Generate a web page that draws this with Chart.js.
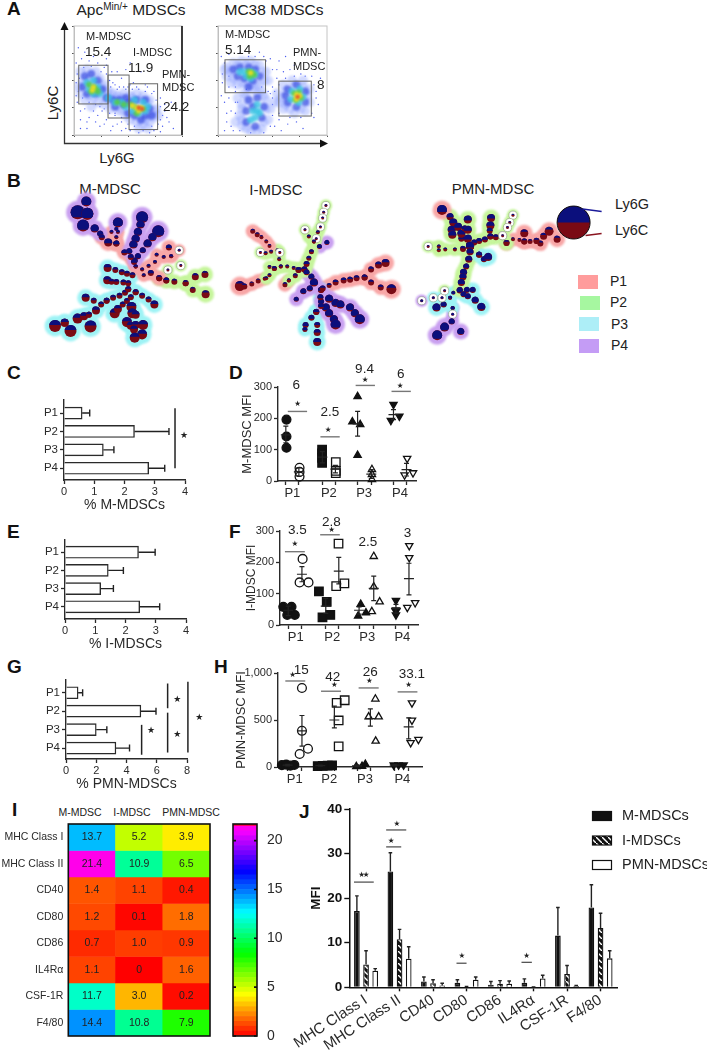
<!DOCTYPE html>
<html>
<head>
<meta charset="utf-8">
<style>
html, body { margin: 0; background: #fff; }
body { position: relative; width: 707px; height: 1050px; overflow: hidden; font-family: "Liberation Sans", Arial, sans-serif; color: #222; filter: blur(.3px); }
canvas { position: absolute; display: block; }
.t { position: absolute; transform: translateY(-50%); white-space: nowrap; }
.c { position: absolute; transform: translate(-50%, -50%); white-space: nowrap; }
.l { position: absolute; transform: translateY(-50%); font-weight: bold; font-size: 19px; color: #111; }
.sw { position: absolute; width: 20px; height: 14px; }
sup { font-size: 10px; line-height: 0; vertical-align: baseline; position: relative; top: -5px; }
svg { position: absolute; left: 0; top: 0; }
</style>
</head>
<body>
<!-- panel letters -->
<div class="l" style="left:7px;top:9px">A</div>
<div class="l" style="left:7px;top:181px">B</div>
<div class="l" style="left:7px;top:373px">C</div>
<div class="l" style="left:229px;top:373px">D</div>
<div class="l" style="left:7px;top:532px">E</div>
<div class="l" style="left:229px;top:532px">F</div>
<div class="l" style="left:7px;top:667px">G</div>
<div class="l" style="left:214px;top:667px">H</div>
<div class="l" style="left:12px;top:810px">I</div>
<div class="l" style="left:299px;top:812px">J</div>

<!-- A -->
<svg width="340" height="150">
  <path d="M64.5 28V143.5H322" fill="none" stroke="#333" stroke-width="1.3"/>
  <path d="M60.5 30L64.5 22L68.5 30Z M320 139.5L328 143.5L320 147.5Z" fill="#111"/>
</svg>
<div class="c" style="left:131px;top:10px;font-size:15.5px">Apc<sup>Min/+</sup> MDSCs</div>
<div class="c" style="left:274px;top:10px;font-size:15.5px">MC38 MDSCs</div>
<div class="c" style="left:52px;top:103px;font-size:15px;transform:translate(-50%,-50%) rotate(-90deg)">Ly6C</div>
<div class="c" style="left:117px;top:157px;font-size:15px">Ly6G</div>

<!-- B -->
<div class="c" style="left:110px;top:188px;font-size:15px">M-MDSC</div>
<div class="c" style="left:276px;top:189px;font-size:15px">I-MDSC</div>
<div class="c" style="left:493px;top:188px;font-size:15px">PMN-MDSC</div>
<div class="t" style="left:615px;top:204px;font-size:14.5px">Ly6G</div>
<div class="t" style="left:615px;top:230px;font-size:14.5px">Ly6C</div>
<div class="sw" style="left:578px;top:275px;background:#ff9c9c"></div>
<div class="sw" style="left:580px;top:296px;background:#a6f7a0"></div>
<div class="sw" style="left:579px;top:317px;background:#adeef7"></div>
<div class="sw" style="left:579px;top:339px;background:#c49cf5"></div>
<div class="t" style="left:610px;top:281px;font-size:14px">P1</div>
<div class="t" style="left:610px;top:302px;font-size:14px">P2</div>
<div class="t" style="left:611px;top:324px;font-size:14px">P3</div>
<div class="t" style="left:611px;top:345px;font-size:14px">P4</div>

<!-- I column heads -->
<div class="c" style="left:80px;top:812px;font-size:10.5px">M-MDSC</div>
<div class="c" style="left:132px;top:812px;font-size:10.5px">I-MDSC</div>
<div class="c" style="left:191px;top:812px;font-size:10.5px">PMN-MDSC</div>

<script src="https://cdn.jsdelivr.net/npm/chart.js@4"></script>
<script>
// ---- A: density dots, axis units 0-100
const gatesA1 = [[4.4, 28.5, 31.5, 64], [31.5, 15.6, 51, 55], [51, 5, 77.4, 47]];
const gatesA2 = [[6.4, 38.8, 43.6, 69], [55.8, 17.4, 85.6, 49.4]];
const sparseA1 = [[2,66],[7,70],[14,68],[22,66],[30,64],[35,58],[44,52],[55,48],[68,44],[80,34],[84,22],[88,12],[82,8],[74,4],[60,2],[48,6],[40,10],[30,14],[22,18],[14,16],[6,22],[3,30],[2,48],[28,62],[36,48],[50,44],[74,40],[80,14],[44,12],[26,22],[10,24],[18,22],[38,18],[90,30],[92,6],[12,6],[24,8],[34,4],[66,46],[6,14],[5,52],[3,56],[9,62],[16,63],[25,58],[30,56],[33,50],[38,46],[42,44],[48,42],[54,42],[60,42],[66,40],[72,38],[76,32],[80,26],[82,18],[78,10],[72,8],[64,4],[56,8],[50,10],[44,16],[38,20],[33,20],[28,24],[24,26],[20,28],[14,30],[8,34],[4,40],[2,36],[34,44],[40,42],[46,44],[52,46],[58,44],[84,28],[86,16],[52,4],[44,4],[36,8],[28,10],[20,12],[12,12],[6,6],[70,2],[80,3],[40,58],[48,60],[30,70],[18,72],[10,76],[4,80],[52,66],[62,58]];
const haloA1 = [[6,58],[12,60],[20,58],[8,50],[4,44],[14,52],[24,52],[28,46],[6,38],[10,32],[18,34],[26,36],[32,40],[36,38],[34,24],[40,36],[42,22],[46,38],[48,18],[52,36],[52,14],[58,38],[58,12],[64,36],[64,10],[70,32],[70,12],[76,24],[74,16],[22,30],[28,28],[78,18],[16,26],[60,6],[68,6],[10,46],[16,48],[20,46],[26,44],[14,36],[30,38],[34,32],[38,34],[44,34],[48,30],[44,24],[50,26],[54,34],[56,24],[60,18],[66,14],[70,18],[74,22],[62,32],[68,30]];
const blueA1 = [[10,54],[16,56],[22,50],[8,44],[12,38],[20,38],[26,42],[30,34],[36,32],[42,32],[38,26],[46,28],[48,34],[52,30],[50,20],[56,18],[62,14],[58,32],[66,32],[70,24],[72,18],[66,18]];
const cyanA1 = [[12,48],[18,50],[14,42],[22,44],[18,38],[24,38],[32,34],[38,30],[44,30],[48,26],[54,22],[60,20],[66,22],[56,32],[64,30],[68,26]];
const greenA1 = [[14,46],[18,44],[16,40],[20,42],[22,40],[40,30],[46,28],[52,28],[56,26],[60,24],[64,24],[58,20]];
const yellowA1 = [[18,44],[17,41],[54,27],[58,25],[62,25],[60,22]];
const redA1 = [[60,25],[63,24]];
const sparseA2 = [[3,72],[10,74],[20,75],[34,72],[44,68],[50,60],[50,44],[46,40],[54,52],[4,48],[3,36],[10,34],[16,30],[12,22],[8,12],[14,4],[52,8],[56,14],[58,4],[64,10],[72,12],[50,34],[90,40],[92,28],[88,16],[94,52],[60,58],[66,60],[56,68],[16,40],[42,72],[6,4],[78,6],[86,54],[76,56],[6,66],[4,56],[10,44],[16,44],[26,42],[40,44],[48,38],[50,28],[50,18],[48,8],[42,2],[30,2],[20,4],[16,20],[18,30],[52,40],[56,46],[62,52],[70,54],[80,54],[88,46],[90,34],[86,20],[76,16],[66,16],[56,20],[28,72],[38,76],[48,70],[54,60],[62,72],[70,64],[10,54],[6,30],[8,20],[12,8]];
const haloA2 = [[8,62],[14,66],[22,68],[30,68],[38,64],[44,58],[46,50],[8,54],[14,52],[22,48],[30,46],[38,46],[6,60],[24,38],[32,42],[40,40],[44,32],[48,24],[46,14],[40,6],[30,4],[22,8],[20,18],[22,28],[16,12],[60,46],[68,50],[78,50],[84,42],[84,30],[80,22],[70,20],[60,24],[58,34],[54,38],[52,30],[12,58],[18,64],[26,64],[34,64],[40,58],[42,50],[12,48],[18,46],[26,46],[34,46],[26,36],[36,38],[42,36],[44,24],[42,12],[36,4],[26,6],[22,14],[22,24],[18,34],[30,30],[62,40],[70,44],[78,44],[82,36],[76,24],[66,24],[56,30],[62,28]];
const blueA2 = [[14,60],[20,62],[28,62],[34,60],[38,54],[18,54],[24,52],[32,50],[28,44],[28,32],[36,34],[42,26],[40,16],[34,8],[26,12],[26,22],[32,26],[64,42],[72,46],[80,40],[80,30],[72,26],[64,30],[62,36]];
const cyanA2 = [[20,58],[24,58],[30,58],[34,56],[30,52],[26,54],[32,22],[36,22],[34,16],[38,20],[30,14],[36,28],[68,40],[75,42],[78,35],[74,30],[67,33]];
const greenA2 = [[28,58],[31,57],[29,54],[33,55],[70,38],[74,39],[76,34],[71,32]];
const yellowA2 = [[30,57],[72,37],[75,36],[72,33]];
const redA2 = [[73,35]];
const labelsA1 = [['M-MDSC',86,36,11],['15.4',85,51,13.5],['I-MDSC',133,52,11],['11.9',128,67,13.5],['PMN-',162,74,11],['MDSC',162,87,11],['24.2',163,106,13.5]];
const labelsA2 = [['M-MDSC',225,34,11],['5.14',225,49,13.5],['PMN-',293,52,11],['MDSC',293,66,11],['8',317,84,13.5]];

// ---- B: tree nodes [x, y, size], axis units are 1/3 px of the panel
const popColors = { P1: '#f8a7a7', P2: '#c6f59c', P3: '#9ef3f5', P4: '#c9a0f0' };
const treeM = [
  { pop: 'P4', blue: .85, nodes: [[232,68,5],[235,110,6],[222,150,6],[258,160,4],[275,178,3]] },
  { pop: 'P4', blue: .85, nodes: [[205,105,7],[235,110,6]] },
  { pop: 'P4', blue: .85, nodes: [[330,140,5],[325,162,2]] },
  { pop: 'P4', blue: .85, nodes: [[405,122,6],[400,147,4],[392,172,4],[385,195,4],[378,215,4],[365,238,3]] },
  { pop: 'P4', blue: .85, nodes: [[455,170,6],[437,190,4],[422,212,4],[407,235,3],[392,255,3],[382,270,3]] },
  { pop: 'P1', blue: .6, nodes: [[280,190,3],[300,208,4],[325,212,3],[350,242,3],[370,258,3],[380,275,3],[385,290,2]] },
  { pop: 'P1', blue: .6, nodes: [[310,172,2],[330,172,2],[325,190,2],[325,212,3]] },
  { pop: 'P1', blue: .6, nodes: [[488,225,3],[495,255,2],[472,258,2],[450,250,2],[445,275,2],[425,288,2],[405,300,2],[385,290,2]] },
  { pop: 'P1', blue: .6, nodes: [[520,235,1.5],[495,255,2]] },
  { pop: 'P1', blue: .55, nodes: [[385,290,2],[410,320,2],[432,312,3],[458,330,3]] },
  { pop: 'P2', blue: .28, nodes: [[458,330,3],[480,338,3],[505,342,3],[540,347,3],[570,325,3.5],[600,317,3.5]] },
  { pop: 'P2', blue: .28, nodes: [[540,347,3],[562,370,3],[602,385,4]] },
  { pop: 'P2', blue: .4, nodes: [[485,302,1.5],[480,338,3]] },
  { pop: 'P2', blue: .4, nodes: [[525,287,1.5]] },
  { pop: 'P3', blue: .42, nodes: [[298,295,4],[322,302,3],[342,310,3],[358,315,3],[375,320,3]] },
  { pop: 'P3', blue: .42, nodes: [[297,337,4],[310,342,3],[325,343,3],[347,345,3],[362,347,3]] },
  { pop: 'P3', blue: .42, nodes: [[362,368,3],[385,378,3],[405,390,3],[425,403,3],[443,420,4]] },
  { pop: 'P3', blue: .42, nodes: [[230,397,4],[255,407,3],[295,407,3],[315,397,3],[335,390,3],[352,380,3],[362,368,3]] },
  { pop: 'P3', blue: .42, nodes: [[135,493,6],[165,482,4],[205,468,5],[225,460,4],[240,455,3],[262,440,4],[278,420,3],[295,407,3]] },
  { pop: 'P3', blue: .42, nodes: [[183,510,6],[165,482,4]] },
  { pop: 'P3', blue: .42, nodes: [[245,495,6],[240,455,3]] },
  { pop: 'P3', blue: .42, nodes: [[320,450,5],[330,435,4],[345,420,3],[358,408,3],[370,395,3],[385,378,3]] },
  { pop: 'P3', blue: .42, nodes: [[372,428,5],[375,450,5],[385,455,4],[358,480,5],[370,492,4],[385,490,4],[408,490,5],[380,505,4],[405,522,5],[382,533,5]] }
];
const treeI = [
  { pop: 'P2', blue: .5, nodes: [[975,82,1.5],[968,105,1.5],[965,125,1.5],[958,155,1.5],[950,173,2],[938,205,2],[930,240,2.5],[922,262,2.5],[915,282,3],[908,300,3]] },
  { pop: 'P2', blue: .5, nodes: [[910,165,1.5],[922,188,2],[938,205,2]] },
  { pop: 'P2', blue: .5, nodes: [[945,195,1.5],[938,205,2]] },
  { pop: 'P4', blue: .8, nodes: [[978,208,2.5],[955,222,2.5]] },
  { pop: 'P1', blue: .3, nodes: [[748,170,2.5],[762,182,2.5],[775,190,2],[790,205,2],[800,220,2]] },
  { pop: 'P2', blue: .4, nodes: [[772,242,1.5],[788,245,2],[805,240,2],[825,235,2],[832,242,1.5],[830,265,2],[835,290,2]] },
  { pop: 'P2', blue: .45, nodes: [[800,292,2],[815,297,2.5],[835,290,2],[855,290,2],[875,295,2],[890,302,3],[908,300,3]] },
  { pop: 'P2', blue: .45, nodes: [[790,330,2],[800,320,2],[815,297,2.5]] },
  { pop: 'P2', blue: .45, nodes: [[860,338,2],[880,322,2.5],[890,302,3]] },
  { pop: 'P1', blue: .25, nodes: [[708,357,5],[722,358,3],[745,350,2.5],[765,340,2.5],[785,332,2]] },
  { pop: 'P1', blue: .3, nodes: [[848,352,2.5],[860,338,2]] },
  { pop: 'P4', blue: .8, nodes: [[915,310,3],[930,325,3],[938,345,4],[925,365,3],[905,375,3],[883,402,2.5]] },
  { pop: 'P4', blue: .8, nodes: [[960,370,3],[985,400,4],[1005,415,4],[1020,420,4],[1050,430,4],[1065,450,4],[1080,470,5]] },
  { pop: 'P4', blue: .8, nodes: [[960,410,3],[975,430,4],[985,450,4],[1000,470,4],[1005,488,5]] },
  { pop: 'P3', blue: .65, nodes: [[960,370,3],[958,395,3],[960,425,3],[945,445,3],[930,465,3],[912,490,3],[910,505,2.5]] },
  { pop: 'P3', blue: .5, nodes: [[945,445,3],[948,490,3],[948,515,3.5],[948,548,4]] },
  { pop: 'P1', blue: .4, nodes: [[965,365,3],[985,355,2.5],[1005,345,3],[1030,338,3],[1050,335,3],[1070,330,3],[1095,328,3],[1115,300,3],[1138,285,3.5],[1160,278,4]] },
  { pop: 'P1', blue: .35, nodes: [[1095,328,3],[1115,345,3],[1145,362,3],[1178,368,5]] }
];
const treeP = [
  { pop: 'P1', blue: .7, nodes: [[1335,97,5]] },
  { pop: 'P2', blue: .6, nodes: [[1360,120,3.5],[1370,140,4],[1365,165,4],[1367,182,4],[1395,195,3],[1422,220,4]] },
  { pop: 'P2', blue: .6, nodes: [[1385,155,4],[1395,178,4],[1405,160,3],[1415,130,4],[1415,165,4],[1415,195,4],[1422,220,4]] },
  { pop: 'P2', blue: .55, nodes: [[1487,125,4],[1485,150,4],[1483,168,3],[1485,188,3],[1468,198,3],[1450,203,3],[1435,208,3],[1422,220,4]] },
  { pop: 'P2', blue: .45, nodes: [[1555,115,1.5],[1545,140,1.5],[1538,157,1.5],[1523,185,1.5],[1502,190,3],[1485,188,3]] },
  { pop: 'P2', blue: .45, nodes: [[1535,210,3],[1523,185,1.5]] },
  { pop: 'P2', blue: .4, nodes: [[1292,222,1.5],[1325,222,2],[1325,235,2],[1345,232,2],[1375,232,2],[1400,230,3],[1422,220,4]] },
  { pop: 'P3', blue: .8, nodes: [[1450,250,3],[1465,265,3],[1478,258,4]] },
  { pop: 'P2', blue: .6, nodes: [[1422,220,4],[1450,250,3]] },
  { pop: 'P2', blue: .7, nodes: [[1422,220,4],[1422,240,3.5],[1418,265,3.5],[1410,290,3],[1402,310,3.5],[1400,325,3.5],[1395,345,3.5],[1390,370,3]] },
  { pop: 'P1', blue: .3, nodes: [[1535,210,3],[1555,197,2],[1575,200,2],[1590,205,3],[1608,205,2.5],[1628,203,3],[1640,212,3]] },
  { pop: 'P1', blue: .3, nodes: [[1590,177,4],[1590,205,3]] },
  { pop: 'P1', blue: .3, nodes: [[1628,203,3],[1650,187,3.5],[1667,170,4.5]] },
  { pop: 'P1', blue: .3, nodes: [[1692,197,3.5]] },
  { pop: 'P3', blue: .8, nodes: [[1430,370,3],[1412,370,3],[1390,372,2],[1370,380,2],[1360,397,2],[1340,420,3],[1318,430,4]] },
  { pop: 'P3', blue: .8, nodes: [[1390,372,3],[1402,385,3],[1415,392,3],[1438,405,3.5],[1457,428,4]] },
  { pop: 'P3', blue: .7, nodes: [[1308,397,1.5],[1335,397,1.5],[1360,397,2],[1368,432,2]] },
  { pop: 'P2', blue: .5, nodes: [[1343,373,1.5]] },
  { pop: 'P4', blue: .85, nodes: [[1272,407,1.5]] },
  { pop: 'P4', blue: .85, nodes: [[1368,432,2],[1368,453,1.5],[1365,478,3],[1343,497,4.5],[1320,525,5]] },
  { pop: 'P4', blue: .85, nodes: [[1393,512,3.5]] }
];
const pieLegend = [[1743, 140, 16.5]];

// ---- C, E, G: horizontal bars
const popLabels = ['P1', 'P2', 'P3', 'P4'];
const cValues = [0.6, 2.33, 1.3, 2.8];
const cErrors = [0.85, 3.47, 1.65, 3.33];
const eValues = [2.43, 1.43, 1.18, 2.47];
const eErrors = [2.98, 1.93, 1.6, 3.13];
const gValues = [0.8, 4.95, 2.0, 3.3];
const gErrors = [1.1, 5.95, 2.7, 4.2];

// ---- D, F, H: dots per column, [column position, value]
const dDots = [
  [[1.05,196],[1.05,142],[1.05,106]],
  [[2.05,42],[2.05,29],[2.05,14]],
  [[3.78,100],[3.78,88],[3.78,74],[3.78,58]],
  [[4.83,60],[4.83,32],[4.83,25]],
  [[6.5,270],[6.1,189],[6.7,180],[6.5,82]],
  [[7.6,37],[7.6,21],[7.6,5]],
  [[9.25,244],[9.05,193],[9.7,207]],
  [[10.3,72],[10.1,19],[10.75,26]]
];
const dMeans = [147, 29, 76, 38, 182, 22, 212, 36];
const dLow = [122, 15, 58, 26, 143, 8, 196, 16];
const dHigh = [175, 43, 94, 50, 222, 36, 228, 56];
const dColumns = [1, 2, 3.8, 4.8, 6.5, 7.55, 9.25, 10.25];
const dLabelAt = [1.5, 4.3, 7, 9.75];
const dLines = [[1.15,222,2.63,222],[3.65,141,5.13,141],[6.35,305,7.83,305],[9.1,286,10.58,286]];
const dStars = [[1.9,244],[4.25,162],[7.08,323],[9.75,304]];
const dRatios = [['6',1.8,304],['2.5',4.38,219],['9.4',7.03,357],['6',9.8,342]];

const fDots = [
  [[.64,58],[1.24,58],[.93,32],[1.48,32],[1,46]],
  [[2.05,211],[1.83,136],[2.48,136]],
  [[3.24,107],[3.81,74],[3.5,24],[4.07,32]],
  [[4.67,260],[4.5,124],[5.1,133]],
  [[6.29,66],[6.1,29],[6.67,39]],
  [[7.24,219],[7.1,43],[7.67,74],[7.24,122]],
  [[8.86,78],[8.86,43],[8.86,32],[8.86,48]],
  [[9.83,253],[9.83,215],[9.69,56],[10.26,71]]
];
const fMeans = [47, 162, 60, 172, 47, 117, 52, 148];
const fLow = [30, 138, 37, 131, 35, 78, 38, 96];
const fHigh = [60, 186, 85, 216, 58, 156, 66, 197];
const fColumns = [1, 2, 3.74, 4.69, 6.17, 7.24, 8.86, 9.81];
const fLabelAt = [1.55, 4.21, 6.76, 9.33];
const fLines = [[.76,234,2.21,234],[3.33,288,4.76,288]];
const fStars = [[1.48,257],[4.17,303]];
const fRatios = [['3.5',1.67,303],['2.8',4.14,328],['2.5',6.81,265],['3',9.71,293]];

const hDots = [
  [[.6,20],[.9,25],[1.19,15],[1.47,22]],
  [[2,841],[2,385],[1.84,138],[2.42,194]],
  [[3.1,10],[3.45,12],[3.8,15],[4.1,18]],
  [[4.42,682],[4.98,710],[4.56,495],[4.56,219]],
  [[5.79,5],[6.42,30],[6.19,8]],
  [[7.12,724],[6.65,534],[7.35,534],[7.14,276]],
  [[8.4,20],[8.74,20],[9.09,20]],
  [[9.67,682],[9.67,498],[9.58,258],[10.12,293]]
];
const hMeans = [20, 385, 14, 500, 12, 515, 20, 427];
const hLow = [12, 223, 8, 417, 4, 435, 12, 300];
const hHigh = [28, 548, 20, 647, 24, 618, 28, 523];
const hColumns = [1, 2, 3.28, 4.26, 5.84, 6.77, 8.47, 9.44];
const hLabelAt = [1.5, 3.9, 6.4, 9];
const hLines = [[.84,915,2.23,915],[3.33,806,4.72,806],[5.95,841,7.35,841],[8.67,799,10.05,799]];
const hStars = [[1.35,975],[4.26,876],[6.7,912],[9.44,876]];
const hRatios = [['15',1.95,1028],['42',4.14,954],['26',6.77,1007],['33.1',9.67,982]];

// ---- I: heat map
const heatColumns = ['M-MDSC', 'I-MDSC', 'PMN-MDSC'];
const heatRows = ['MHC Class I', 'MHC Class II', 'CD40', 'CD80', 'CD86', 'IL4R\u03b1', 'CSF-1R', 'F4/80'];
const heatMDSC = [13.7, 21.4, 1.4, 1.2, 0.7, 1.1, 11.7, 14.4];
const heatIMDSC = [5.2, 10.9, 1.1, 0.1, 1.0, 0, 3.0, 10.8];
const heatPMN = [3.9, 6.5, 0.4, 1.8, 0.9, 1.6, 0.2, 7.9];
const heatLabels = [['13.7','5.2','3.9'],['21.4','10.9','6.5'],['1.4','1.1','0.4'],['1.2','0.1','1.8'],['0.7','1.0','0.9'],['1.1','0','1.6'],['11.7','3.0','0.2'],['14.4','10.8','7.9']];

// ---- J: grouped bars
const markers = ['MHC Class I', 'MHC Class II', 'CD40', 'CD80', 'CD86', 'IL4R\u03b1', 'CSF-1R', 'F4/80'];
const jMDSC = [17.1, 26, 1.3, 1.0, 0.6, 1.0, 11.6, 17.9];
const jIMDSC = [5.1, 10.8, 0.9, 0.1, 0.8, 0.05, 3, 13.3];
const jPMN = [3.7, 6.4, 0.4, 1.7, 0.8, 2, 0.3, 6.5];
const jMDSCTop = [20.5, 30.2, 2.3, 1.7, 1.3, 1.9, 17.9, 23];
const jIMDSCTop = [8.2, 13, 1.7, 0.2, 1.5, 0.1, 4.9, 16.6];
const jPMNTop = [4.2, 9.1, 0.9, 2.3, 1.4, 2.7, 0.4, 8.2];
const jLines = [[-.36,23.6,.23,23.6],[.6,35.3,1.2,35.3],[.6,31.5,1.05,31.5],[2.7,5.4,3,5.4],[4.64,5.6,4.95,5.6]];
const jStars = [[-.13,25.2],[.0,25.2],[.92,36.6],[.75,32.9],[2.86,6.9],[4.79,7]];

const INK = '#2a2a2a';
Chart.defaults.animation = false;
Chart.defaults.responsive = false;
Chart.defaults.font.family = '"Liberation Sans", Arial, sans-serif';
Chart.defaults.color = INK;
Chart.defaults.plugins.legend.display = false;
Chart.defaults.plugins.tooltip.enabled = false;

// canvas around a chart area given in page pixels: area [l,t,r,b], margins [left,top,right,bottom]
function makeCanvas(area, m) {
  const c = document.createElement('canvas');
  c.width = Math.round(area[2] - area[0] + m[0] + m[2]);
  c.height = Math.round(area[3] - area[1] + m[1] + m[3]);
  c.style.left = (area[0] - m[0]) + 'px';
  c.style.top = (area[1] - m[1]) + 'px';
  document.body.appendChild(c);
  return c;
}
const padding = m => ({ top: m[1], right: m[2], left: 0, bottom: 0 });
const axisStyle = { color: INK, width: 1.4 };
const gridStyle = { drawOnChartArea: false, tickLength: 4, color: INK, tickWidth: 1.3 };

// gates, frames
const framePlugin = {
  id: 'gates',
  afterDatasetsDraw(chart, _, o) {
    const { ctx, chartArea: a, scales: { x, y } } = chart;
    ctx.save();
    if (o.frame) { ctx.strokeStyle = o.frame; ctx.lineWidth = o.frameWidth || 1; ctx.strokeRect(a.left, a.top, a.right - a.left, a.bottom - a.top); }
    if (o.rightEdge) { ctx.strokeStyle = '#111'; ctx.lineWidth = 1.6; ctx.beginPath(); ctx.moveTo(a.right, a.top); ctx.lineTo(a.right, a.bottom); ctx.stroke(); }
    ctx.strokeStyle = '#666'; ctx.lineWidth = 1;
    (o.rects || []).forEach(r => {
      const X = x.getPixelForValue(r[0]), Y = y.getPixelForValue(r[3]);
      ctx.strokeRect(X, Y, x.getPixelForValue(r[2]) - X, y.getPixelForValue(r[1]) - Y);
    });
    ctx.restore();
  }
};

// significance lines, stars and ratio numbers in data units
const marksPlugin = {
  id: 'marks',
  afterDraw(chart, _, o) {
    const { ctx, scales: { x, y } } = chart;
    ctx.save();
    ctx.strokeStyle = o.lineColor || '#777'; ctx.lineWidth = o.lineWidth || 1.4;
    (o.lines || []).forEach(l => {
      ctx.beginPath();
      ctx.moveTo(x.getPixelForValue(l[0]), y.getPixelForValue(l[1]));
      ctx.lineTo(x.getPixelForValue(l[2]), y.getPixelForValue(l[3]));
      ctx.stroke();
    });
    ctx.textAlign = 'center'; ctx.textBaseline = 'middle'; ctx.fillStyle = '#222';
    ctx.font = (o.starSize || 8) + 'px "DejaVu Sans"';
    (o.stars || []).forEach(s => ctx.fillText('\u2605', x.getPixelForValue(s[0]), y.getPixelForValue(s[1])));
    ctx.font = '13.5px "Liberation Sans"';
    (o.numbers || []).forEach(n => ctx.fillText(n[0], x.getPixelForValue(n[1]), y.getPixelForValue(n[2])));
    ctx.restore();
  }
};

// mean line + whiskers for the dot panels
const summaryPlugin = {
  id: 'summary',
  afterDatasetsDraw(chart, _, o) {
    const { ctx, scales: { x, y } } = chart;
    if (!o.means) return;
    ctx.save();
    ctx.strokeStyle = '#222'; ctx.lineWidth = 1.2;
    o.means.forEach((v, i) => {
      const X = x.getPixelForValue(o.columns[i]);
      const yl = y.getPixelForValue(o.low[i]), yh = y.getPixelForValue(o.high[i]), ym = y.getPixelForValue(v);
      ctx.beginPath();
      ctx.moveTo(X, yl); ctx.lineTo(X, yh);
      ctx.moveTo(X - 2.5, yl); ctx.lineTo(X + 2.5, yl);
      ctx.moveTo(X - 2.5, yh); ctx.lineTo(X + 2.5, yh);
      ctx.moveTo(X - 5, ym); ctx.lineTo(X + 5, ym);
      ctx.stroke();
    });
    ctx.restore();
  }
};

// whiskers for bars; the direction follows the value axis
const whiskerPlugin = {
  id: 'whiskers',
  afterDatasetsDraw(chart, _, o) {
    if (!o.tops) return;
    const { ctx, scales: { x, y } } = chart;
    ctx.save();
    ctx.strokeStyle = '#222'; ctx.lineWidth = 1.4;
    o.tops.forEach((tops, d) => {
      chart.getDatasetMeta(d).data.forEach((bar, i) => {
        ctx.beginPath();
        if (chart.options.indexAxis === 'y') {
          const e = x.getPixelForValue(tops[i]);
          ctx.moveTo(bar.x, bar.y); ctx.lineTo(e, bar.y);
          ctx.moveTo(e, bar.y - 3.5); ctx.lineTo(e, bar.y + 3.5);
        } else {
          const e = y.getPixelForValue(tops[i]);
          ctx.moveTo(bar.x, bar.y); ctx.lineTo(bar.x, e);
          ctx.moveTo(bar.x - 1.8, e); ctx.lineTo(bar.x + 1.8, e);
        }
        ctx.stroke();
      });
    });
    ctx.restore();
  }
};

// pie glyph for every tree node, blue share on top
function drawGlyph(ctx, x, y, r, blue) {
  const t = Math.asin(2 * blue - 1);
  ctx.fillStyle = '#7a0a14';
  ctx.beginPath(); ctx.arc(x, y, r, 0, Math.PI * 2); ctx.fill();
  ctx.fillStyle = '#0b0f7c';
  ctx.beginPath(); ctx.arc(x, y, r, Math.PI - t, Math.PI * 2 + t); ctx.closePath(); ctx.fill();
}
const treePlugin = {
  id: 'treeNodes',
  beforeDatasetsDraw(chart) { chart.ctx.filter = 'blur(1px)'; },
  afterDatasetsDraw(chart) {
    const { ctx, scales: { x, y } } = chart;
    ctx.filter = 'none';
    ctx.save();
    chart.data.datasets.forEach((ds, d) => {
      if (!ds.isTree) return;
      chart.getDatasetMeta(d).data.forEach((pt, i) => {
        const r = ds.data[i].r;
        if (r < 2) {
          ctx.fillStyle = '#fff'; ctx.strokeStyle = '#8a9a80'; ctx.lineWidth = .6;
          ctx.beginPath(); ctx.arc(pt.x, pt.y, r + 2.6, 0, Math.PI * 2); ctx.fill(); ctx.stroke();
        }
        drawGlyph(ctx, pt.x, pt.y, r, ds.blue);
      });
    });
    pieLegend.forEach(p => {
      const X = x.getPixelForValue(p[0]), Y = y.getPixelForValue(p[1]);
      drawGlyph(ctx, X, Y, p[2], .5);
      ctx.strokeStyle = '#111'; ctx.lineWidth = 1;
      ctx.beginPath(); ctx.arc(X, Y, p[2], 0, Math.PI * 2); ctx.stroke();
      ctx.lineWidth = 1.4;
      ctx.strokeStyle = '#1a1a9a'; ctx.beginPath(); ctx.moveTo(X + 9, Y - 13.5); ctx.lineTo(X + 28, Y - 11); ctx.stroke();
      ctx.strokeStyle = '#8a1420'; ctx.beginPath(); ctx.moveTo(X + 12, Y + 13); ctx.lineTo(X + 28, Y + 11); ctx.stroke();
    });
    ctx.restore();
  }
};

// ---- A
const softDots = {
  id: 'softDots',
  beforeDatasetDraw(chart, { index }) { chart.ctx.filter = index === 6 ? 'none' : 'blur(1.1px)'; },
  afterDatasetsDraw(chart) { chart.ctx.filter = 'none'; }
};
function densityChart(area, rects, rightEdge, layers, labels) {
  const tint = [['#e8552aff', 2.2], ['#ecdc22ee', 2.6], ['#58cc48dd', 3], ['#38c4e4cc', 3.6], ['#3347e0b0', 4], ['#8ea2ff66', 5], ['#4a5cf0ff', .7]];
  new Chart(makeCanvas(area, [3, 1, 2, 5]), {
    type: 'scatter',
    data: { datasets: layers.map((pts, i) => ({
      data: pts.map(p => ({ x: p[0], y: p[1] })),
      pointRadius: tint[i][1], backgroundColor: tint[i][0], borderWidth: 0
    })) },
    options: {
      layout: { padding: { top: 1, right: 2 } },
      scales: {
        x: { min: 0, max: 100, afterFit: s => { s.height = 5; }, border: { color: '#bbb', width: 1 }, grid: { drawOnChartArea: false, tickLength: 2, color: '#555' }, ticks: { display: false, stepSize: 25 } },
        y: { min: 0, max: 100, afterFit: s => { s.width = 3; }, border: { color: '#bbb', width: 1 }, grid: { drawOnChartArea: false, tickLength: 2, color: '#555' }, ticks: { display: false, stepSize: 25 } }
      },
      plugins: { gates: { frame: '#c4c4c4', rightEdge, rects } }
    },
    plugins: [softDots, framePlugin]
  });
  labels.forEach(l => {
    const d = document.createElement('div');
    d.className = 't';
    d.textContent = l[0];
    d.style.cssText = `left:${l[1]}px;top:${l[2]}px;font-size:${l[3]}px`;
    document.body.appendChild(d);
  });
}
densityChart([71.7, 21.7, 185, 135], gatesA1, true, [redA1, yellowA1, greenA1, cyanA1, blueA1, haloA1, sparseA1], labelsA1);
densityChart([216, 21.7, 330, 135], gatesA2, false, [redA2, yellowA2, greenA2, cyanA2, blueA2, haloA2, sparseA2], labelsA2);

// ---- B
const treeBranches = [...treeM, ...treeI, ...treeP];
new Chart(makeCanvas([0, 170, 707, 360], [0, 0, 0, 0]), {
  type: 'scatter',
  data: { datasets: treeBranches.map(b => ({
    isTree: true, blue: b.blue,
    data: b.nodes.map(n => ({ x: n[0], y: n[1], r: n[2] })),
    showLine: true,
    borderColor: popColors[b.pop], backgroundColor: popColors[b.pop], borderWidth: 10,
    borderCapStyle: 'round', borderJoinStyle: 'round',
    pointBorderWidth: 0,
    pointRadius: c => c.raw.r + 4.5,
    clip: false
  })) },
  options: {
    layout: { padding: 0 },
    scales: { x: { display: false, min: 0, max: 2121 }, y: { display: false, min: 0, max: 570, reverse: true } }
  },
  plugins: [treePlugin]
});

// ---- C, E, G
function hBars(area, m, values, errors, cfg) {
  new Chart(makeCanvas(area, m), {
    type: 'bar',
    data: { datasets: [{
      data: values.map((v, i) => ({ x: v, y: i })),
      backgroundColor: '#fff', borderColor: INK, borderWidth: 1.4, barThickness: 12
    }] },
    options: {
      indexAxis: 'y',
      layout: { padding: padding(m) },
      scales: {
        x: {
          type: 'linear', min: 0, max: cfg.xMax,
          afterFit: s => { s.height = m[3]; },
          border: axisStyle, grid: gridStyle,
          ticks: { stepSize: cfg.xStep, font: { size: 11 }, padding: 1 },
          title: { display: true, text: cfg.title, font: { size: 14 }, padding: 0 }
        },
        y: {
          type: 'linear', reverse: true, offset: false, min: cfg.yRange[0], max: cfg.yRange[1],
          afterFit: s => { s.width = m[0]; },
          afterBuildTicks: s => { s.ticks = popLabels.map((_, i) => ({ value: i })); },
          border: axisStyle, grid: { ...gridStyle, offset: false },
          ticks: { font: { size: 11.5 }, padding: 2, callback: v => popLabels[v] }
        }
      },
      plugins: { whiskers: { tops: [errors] }, marks: { lineColor: '#222', lineWidth: 1.5, lines: cfg.lines, stars: cfg.stars, starSize: 9 } }
    },
    plugins: [whiskerPlugin, marksPlugin]
  });
}
hBars([64.3, 400, 185, 480], [24, 12, 30, 34], cValues, cErrors, {
  xMax: 4, xStep: 1, title: '% M-MDSCs', yRange: [-.71, 3.64],
  lines: [[3.67, -.26, 3.67, 3]], stars: [[3.97, 1.25]]
});
hBars([65.3, 540, 186.3, 619.3], [24, 12, 30, 34], eValues, eErrors, {
  xMax: 4, xStep: 1, title: '% I-MDSCs', yRange: [-.67, 3.67]
});
hBars([65.7, 680, 186.7, 759.3], [24, 12, 30, 34], gValues, gErrors, {
  xMax: 8, xStep: 2, title: '% PMN-MDSCs', yRange: [-.69, 3.59],
  lines: [[5, 1.74, 5, 3.36], [6.72, -.5, 6.72, .84], [6.72, 1.08, 6.72, 3.24], [8.06, -.59, 8.06, 3.24]],
  stars: [[5.62, 2.07], [7.36, .36], [7.36, 2.27], [8.81, 1.35]]
});

// ---- D, F, H
const dotStyles = ['circle', 'rect', 'triangle', 'triangle'];
function dotPlot(area, m, cfg) {
  const ticksAt = [...cfg.columns, ...cfg.labelAt].sort((a, b) => a - b);
  new Chart(makeCanvas(area, m), {
    type: 'scatter',
    data: { datasets: cfg.dots.map((pts, i) => ({
      data: pts.map(p => ({ x: p[0], y: p[1] })),
      pointStyle: dotStyles[i >> 1],
      pointRotation: (i >> 1) === 3 ? 180 : 0,
      pointRadius: (i >> 1) === 1 ? 6 : (i >> 1) === 0 ? 4.4 : 4.2,
      backgroundColor: i % 2 ? 'rgba(255,255,255,0)' : '#111',
      borderColor: '#111', pointBorderWidth: 1.3,
      clip: false
    })) },
    options: {
      layout: { padding: padding(m) },
      scales: {
        x: {
          type: 'linear', min: cfg.xRange[0], max: cfg.xRange[1],
          afterFit: s => { s.height = m[3]; },
          afterBuildTicks: s => { s.ticks = ticksAt.map(v => ({ value: v })); },
          border: axisStyle,
          grid: { drawOnChartArea: false, tickLength: 4, tickWidth: 1.3, tickColor: c => cfg.labelAt.includes(c.tick && c.tick.value) ? 'rgba(0,0,0,0)' : INK },
          ticks: { autoSkip: false, maxRotation: 0, font: { size: 13 }, padding: 1, callback: v => {
            const k = cfg.labelAt.indexOf(v);
            return k < 0 ? '' : popLabels[k];
          } }
        },
        y: {
          min: 0, max: cfg.yMax,
          afterFit: s => { s.width = m[0]; },
          border: axisStyle, grid: gridStyle,
          ticks: { stepSize: cfg.yStep, font: { size: 11 }, padding: 2 },
          title: { display: true, text: cfg.title, font: { size: cfg.titleSize }, padding: 0 }
        }
      },
      plugins: {
        summary: { means: cfg.means, low: cfg.low, high: cfg.high, columns: cfg.columns },
        marks: { lines: cfg.lines, stars: cfg.stars, numbers: cfg.numbers, starSize: 7.5 }
      }
    },
    plugins: [summaryPlugin, marksPlugin]
  });
}
dotPlot([277.7, 387.3, 419.3, 481.7], [38, 32, 4, 24], {
  dots: dDots, means: dMeans, low: dLow, high: dHigh, columns: dColumns, labelAt: dLabelAt,
  xRange: [.4, 11.03], yMax: 300, yStep: 100, title: 'M-MDSC MFI', titleSize: 13,
  lines: dLines, stars: dStars, numbers: dRatios
});
dotPlot([280, 531, 421.7, 625], [36, 18, 4, 24], {
  dots: fDots, means: fMeans, low: fLow, high: fHigh, columns: fColumns, labelAt: fLabelAt,
  xRange: [.4, 10.52], yMax: 300, yStep: 100, title: 'I-MDSC MFI', titleSize: 12,
  lines: fLines, stars: fStars, numbers: fRatios
});
dotPlot([277.7, 673.3, 421.7, 767.7], [44, 12, 18, 24], {
  dots: hDots, means: hMeans, low: hLow, high: hHigh, columns: hColumns, labelAt: hLabelAt,
  xRange: [.33, 10.37], yMax: 1000, yStep: 500, title: 'PMN-MDSC MFI', titleSize: 13,
  lines: hLines, stars: hStars, numbers: hRatios
});

// ---- I
const heatColor = v => v > 21.5 ? 'hsl(0,100%,50%)' : `hsl(${Math.min(v / 21 * 300, 305)},100%,50%)`;
const heatBy = [heatMDSC, heatIMDSC, heatPMN];
const cellTextPlugin = {
  id: 'cellText',
  afterDatasetsDraw(chart) {
    const { ctx, chartArea: a } = chart;
    ctx.save();
    ctx.font = '10.5px "Liberation Sans"'; ctx.textAlign = 'center'; ctx.textBaseline = 'middle'; ctx.fillStyle = '#222';
    chart.data.datasets.forEach((ds, r) => {
      chart.getDatasetMeta(r).data.forEach((bar, c) => {
        ctx.fillText(heatLabels[r][c], bar.x, (bar.y + bar.base) / 2);
      });
    });
    ctx.strokeStyle = '#111'; ctx.lineWidth = 1.6;
    ctx.strokeRect(a.left, a.top, a.right - a.left, a.bottom - a.top);
    ctx.restore();
  }
};
new Chart(makeCanvas([68.3, 824.3, 210, 1036.7], [68.3, 13, 3, 13]), {
  type: 'bar',
  data: {
    labels: heatColumns,
    datasets: heatRows.map((row, r) => ({
      label: row,
      data: heatColumns.map(() => 1),
      backgroundColor: heatColumns.map((_, c) => heatColor(heatBy[c][r])),
      borderWidth: 0, barPercentage: 1, categoryPercentage: 1
    }))
  },
  options: {
    layout: { padding: { top: 13, right: 3, bottom: 13 } },
    scales: {
      x: { stacked: true, display: false },
      y: {
        stacked: true, reverse: true, min: 0, max: 8,
        afterFit: s => { s.width = 68.3; },
        afterBuildTicks: s => { s.ticks = heatRows.map((_, i) => ({ value: i + .5 })); },
        border: { display: false },
        grid: { display: false, drawTicks: false },
        ticks: { font: { size: 10.5 }, padding: 5, autoSkip: false, callback: v => heatRows[v - .5] }
      }
    }
  },
  plugins: [cellTextPlugin]
});

// colour key, one block per half unit
const keySteps = [];
for (let v = 0; v < 21.5; v += .5) keySteps.push(v);
const keyPlugin = {
  id: 'keyFrame',
  afterDatasetsDraw(chart) {
    const { ctx, chartArea: a, scales: { y } } = chart;
    ctx.save();
    ctx.strokeStyle = '#111'; ctx.lineWidth = 1.6;
    ctx.strokeRect(a.left, a.top, a.right - a.left, a.bottom - a.top);
    y.ticks.forEach(t => {
      const Y = y.getPixelForValue(t.value);
      ctx.beginPath();
      ctx.moveTo(a.left, Y); ctx.lineTo(a.left + 3, Y);
      ctx.moveTo(a.right - 3, Y); ctx.lineTo(a.right, Y);
      ctx.stroke();
    });
    ctx.restore();
  }
};
new Chart(makeCanvas([233.3, 824.3, 257.3, 1036.7], [2, 13, 36, 13]), {
  type: 'bar',
  data: {
    labels: [''],
    datasets: [...keySteps.map(v => ({ data: [.5], backgroundColor: heatColor(v + .25), borderWidth: 0, barPercentage: 1, categoryPercentage: 1 })),
      { data: [.2], backgroundColor: heatColor(22), borderWidth: 0, barPercentage: 1, categoryPercentage: 1 }]
  },
  options: {
    layout: { padding: { top: 13, left: 2, bottom: 13 } },
    scales: {
      x: { stacked: true, display: false },
      y: {
        stacked: true, position: 'right', min: 0, max: 21.7,
        afterFit: s => { s.width = 36; },
        afterBuildTicks: s => { s.ticks = [0, 5, 10, 15, 20].map(v => ({ value: v })); },
        border: { display: false },
        grid: { drawOnChartArea: false, drawTicks: true, tickLength: 7, color: 'rgba(0,0,0,0)' },
        ticks: { font: { size: 14 }, padding: 3 }
      }
    }
  },
  plugins: [keyPlugin]
});

// ---- J
function hatch() {
  const p = document.createElement('canvas');
  p.width = p.height = 6;
  const g = p.getContext('2d');
  g.fillStyle = '#111'; g.fillRect(0, 0, 6, 6);
  g.strokeStyle = '#fff'; g.lineWidth = 1.4;
  g.beginPath(); g.moveTo(0, 0); g.lineTo(6, 6); g.stroke();
  return g.createPattern(p, 'repeat');
}
const hatchFill = hatch();
const jSeries = [['M-MDSCs', jMDSC, '#111', 816], ['I-MDSCs', jIMDSC, hatchFill, 840.5], ['PMN-MDSCs', jPMN, '#fff', 865]];
const jLegend = {
  id: 'jLegend',
  afterDraw(chart) {
    const { ctx, canvas } = chart;
    const ox = parseFloat(canvas.style.left), oy = parseFloat(canvas.style.top);
    ctx.save();
    ctx.font = '14.5px "Liberation Sans"'; ctx.textBaseline = 'middle'; ctx.fillStyle = '#222';
    chart.data.datasets.forEach(ds => {
      const y = ds.keyY - oy;
      ctx.fillStyle = ds.backgroundColor; ctx.fillRect(592.5 - ox, y - 4.5, 19, 9);
      ctx.strokeStyle = '#111'; ctx.lineWidth = 1.2; ctx.strokeRect(592.5 - ox, y - 4.5, 19, 9);
      ctx.fillStyle = '#222'; ctx.fillText(ds.label, 622 - ox, y);
    });
    ctx.restore();
  }
};
new Chart(makeCanvas([349.3, 809, 617.3, 987.3], [59.3, 14, 89.7, 62.7]), {
  type: 'bar',
  data: {
    labels: markers,
    datasets: jSeries.map(s => ({
      label: s[0], data: s[1], keyY: s[3],
      backgroundColor: s[2], borderColor: '#111', borderWidth: 1.3,
      categoryPercentage: .82, barPercentage: .62
    }))
  },
  options: {
    layout: { padding: { top: 14, right: 89.7 } },
    scales: {
      x: {
        afterFit: s => { s.height = 62.7; },
        border: { color: '#111', width: 1.5 },
        grid: { drawOnChartArea: false, tickLength: 4, color: '#111', tickWidth: 1.4, offset: false },
        ticks: { autoSkip: false, minRotation: 33, maxRotation: 33, font: { size: 15 }, padding: 0 }
      },
      y: {
        min: 0, max: 40,
        afterFit: s => { s.width = 59.3; },
        border: { color: '#111', width: 1.5 },
        grid: { drawOnChartArea: false, tickLength: 5, color: '#111', tickWidth: 1.4 },
        ticks: { stepSize: 10, font: { size: 13.5, weight: 'bold' }, color: '#111', padding: 2 },
        title: { display: true, text: 'MFI', font: { size: 13.5, weight: 'bold' }, color: '#111', padding: { top: 18, bottom: 0 } }
      }
    },
    plugins: {
      whiskers: { tops: [jMDSCTop, jIMDSCTop, jPMNTop] },
      marks: { lineColor: '#555', lineWidth: 1.3, lines: jLines, stars: jStars, starSize: 7.5 }
    }
  },
  plugins: [whiskerPlugin, marksPlugin, jLegend]
});
</script>
</body>
</html>
